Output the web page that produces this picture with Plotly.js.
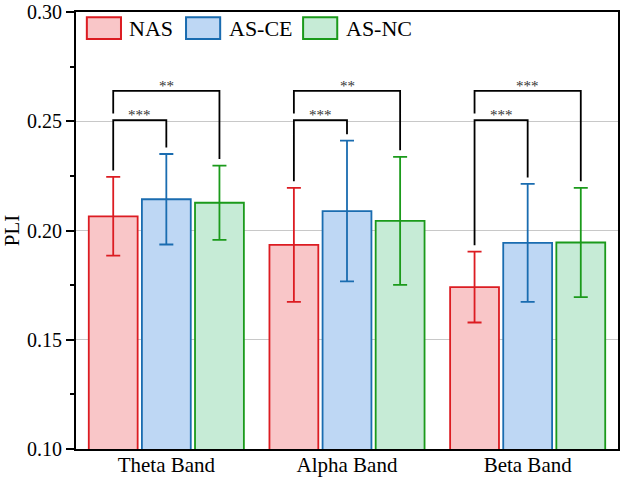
<!DOCTYPE html>
<html>
<head>
<meta charset="utf-8">
<script src="https://cdn.plot.ly/plotly-3.0.1.min.js"></script>
<style>
  html, body { margin: 0; padding: 0; background: #fff; }
  #chart { width: 624px; height: 479px; }
</style>
</head>
<body>
<div id="chart"></div>
<script>
// PLI per frequency band, mean and SD
const categories = ['Theta Band', 'Alpha Band', 'Beta Band'];
const seriesNames = ['NAS', 'AS-CE', 'AS-NC'];

const nasMean = [0.2065, 0.1934, 0.1741];
const nasSd = [0.0180, 0.0261, 0.0162];
const asceMean = [0.2143, 0.2089, 0.1943];
const asceSd = [0.0207, 0.0322, 0.0270];
const asncMean = [0.2127, 0.2044, 0.1945];
const asncSd = [0.0170, 0.0293, 0.0250];

// significance: NAS vs AS-CE and NAS vs AS-NC
const sigVsCE = ['***', '***', '***'];
const sigVsNC = ['**', '**', '***'];
const bracketTop = [0.2505, 0.2639];

const lineColors = ['#dc1c22', '#1a6cb0', '#1b9a1b'];
const fillColors = ['#f9c6c8', '#bed7f4', '#c6ebd6'];

const BARGAP = 0.118;
const GROUPGAP = 0.08;
const PAD = 0.003; // gap between error cap and bracket leg
const SERIF = 'Liberation Serif';

const means = [nasMean, asceMean, asncMean];
const sds = [nasSd, asceSd, asncSd];

const traces = seriesNames.map((name, i) => ({
  type: 'bar',
  name: name,
  x: categories,
  y: means[i],
  showlegend: false,
  marker: {color: fillColors[i], line: {color: lineColors[i], width: 1.8}},
  error_y: {type: 'data', array: sds[i], visible: true, color: lineColors[i], thickness: 1.8, width: 7}
}));

// bracket positions: category index + offset of the series within its group
const slot = (1 - BARGAP) / 3;
const offset = i => (i - 1) * slot;

const shapes = [];
const annotations = [];
categories.forEach((c, k) => {
  const tops = means.map((m, i) => m[k] + sds[i][k]);
  const x0 = k + offset(0);
  // NAS vs AS-CE
  const x1 = k + offset(1);
  shapes.push({
    type: 'path', xref: 'x', yref: 'y',
    path: `M${x0},${tops[0] + PAD} L${x0},${bracketTop[0]} L${x1},${bracketTop[0]} L${x1},${tops[1] + PAD}`,
    line: {color: '#000', width: 1.8}
  });
  annotations.push({
    x: (x0 + x1) / 2, y: bracketTop[0], xref: 'x', yref: 'y', yanchor: 'bottom',
    text: sigVsCE[k], showarrow: false, yshift: -5,
    font: {family: SERIF, size: 15, color: '#333'}
  });
  // NAS vs AS-NC
  const x2 = k + offset(2);
  shapes.push({
    type: 'path', xref: 'x', yref: 'y',
    path: `M${x0},${bracketTop[0] + PAD} L${x0},${bracketTop[1]} L${x2},${bracketTop[1]} L${x2},${tops[2] + PAD}`,
    line: {color: '#000', width: 1.8}
  });
  annotations.push({
    x: (x0 + x2) / 2, y: bracketTop[1], xref: 'x', yref: 'y', yanchor: 'bottom',
    text: sigVsNC[k], showarrow: false, yshift: -5,
    font: {family: SERIF, size: 15, color: '#333'}
  });
});

// legend drawn in paper coordinates (large rectangular swatches)
const legendLeft = [0.020, 0.203, 0.419];
const swatchW = 0.063;
seriesNames.forEach((name, i) => {
  shapes.push({
    type: 'rect', xref: 'paper', yref: 'paper',
    x0: legendLeft[i], x1: legendLeft[i] + swatchW, y0: 0.938, y1: 0.988,
    fillcolor: fillColors[i], line: {color: lineColors[i], width: 2}
  });
  annotations.push({
    xref: 'paper', yref: 'paper', x: legendLeft[i] + swatchW + 0.012, y: 0.963,
    xanchor: 'left', yanchor: 'middle', showarrow: false, text: name,
    font: {family: SERIF, size: 22, color: '#000'}
  });
});

const layout = {
  width: 624,
  height: 479,
  margin: {l: 76, r: 6, t: 12, b: 30},
  paper_bgcolor: '#fff',
  plot_bgcolor: '#fff',
  font: {family: SERIF, size: 18, color: '#000'},
  barmode: 'group',
  bargap: BARGAP,
  bargroupgap: GROUPGAP,
  showlegend: false,
  xaxis: {
    type: 'category',
    range: [-0.5, 2.5],
    showline: true, linecolor: '#000', linewidth: 2, mirror: true,
    ticks: '', showgrid: false,
    ticklabelstandoff: -4,
    tickfont: {size: 21}
  },
  yaxis: {
    title: {text: 'PLI', font: {size: 21}, standoff: 10},
    range: [0.10, 0.30],
    dtick: 0.05,
    tickformat: '.2f',
    ticks: 'outside', ticklen: 8, tickwidth: 2, tickcolor: '#000',
    minor: {dtick: 0.025, ticks: 'outside', ticklen: 4, tickwidth: 2, tickcolor: '#000', showgrid: false},
    showline: true, linecolor: '#000', linewidth: 2, mirror: true,
    showgrid: true, gridcolor: '#c8c8c8', gridwidth: 1,
    zeroline: false,
    tickfont: {size: 20}
  },
  shapes: shapes,
  annotations: annotations
};

Plotly.newPlot('chart', traces, layout, {displayModeBar: false, staticPlot: true});
</script>
</body>
</html>
